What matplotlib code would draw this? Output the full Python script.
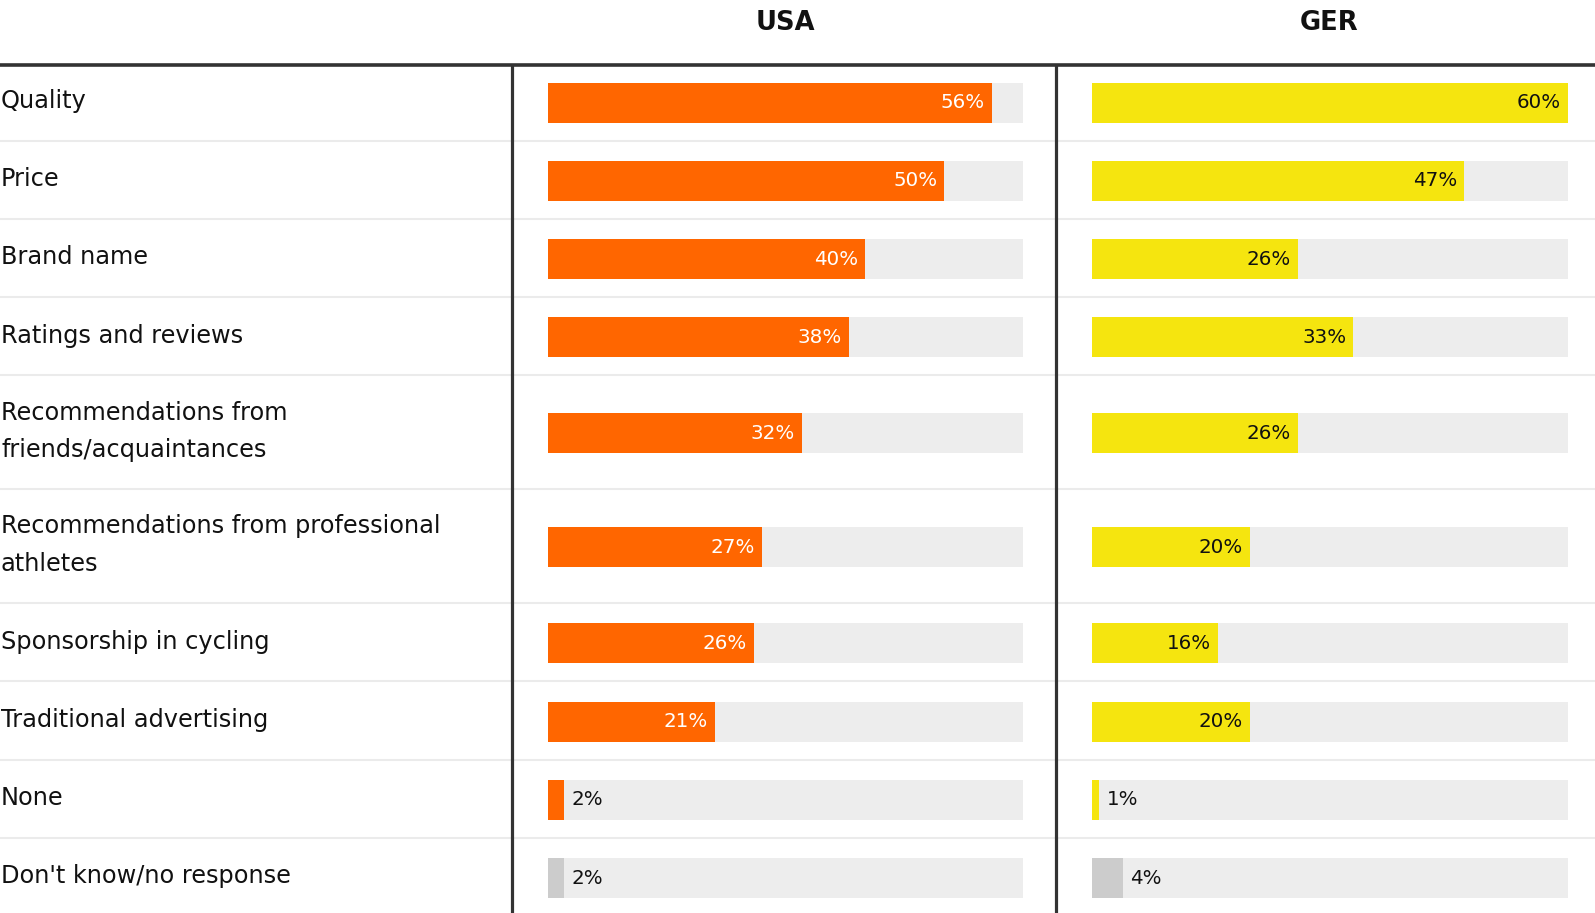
import matplotlib.pyplot as plt
from matplotlib.transforms import blended_transform_factory

# data
categories = ["Quality", "Price", "Brand name", "Ratings and reviews",
              "Recommendations from\nfriends/acquaintances",
              "Recommendations from professional\nathletes",
              "Sponsorship in cycling", "Traditional advertising",
              "None", "Don't know/no response"]
usa = [56, 50, 40, 38, 32, 27, 26, 21, 2, 2]
ger = [60, 47, 26, 33, 26, 20, 16, 20, 1, 4]
columns = ["USA", "GER"]
x_max = 60

# colours
ORANGE = "#FF6600"
YELLOW = "#F5E50F"
NO_ANSWER = "#CCCCCC"
TRACK = "#EDEDED"
SEP = "#EBEBEB"
DARK = "#333333"
TEXT = "#111111"

plt.rcParams['font.family'] = ["DejaVu Sans"]

W, H = 1595, 913
fig = plt.figure(figsize=(W / 100, H / 100), dpi=100)

# layout in pixels
top_y = 65          # thick line under header
row_px = 78.25      # height of a one-line row
extra_line = 0.455  # extra height per extra label line (in rows)
sep_shift = -2.5    # separators sit a bit above the row grid
bar_shift = -1.5
label_fs = 17.3
line_gap = 36.6     # baseline to baseline, px
vline_x = [511.5, 1056]
tracks = [(548.3, 1023.3), (1091.5, 1567.5)]
bar_h = 40 / row_px

# row geometry in row units
heights = [1 + extra_line * c.count("\n") for c in categories]
edges = [0]
for h in heights:
    edges.append(edges[-1] + h)
centers = [(edges[i] + edges[i + 1]) / 2 + bar_shift / row_px for i in range(len(categories))]
y_bottom = (H - top_y) / row_px
ax_h = (H - top_y) / H

# background: labels, separators, vertical rules
bg = fig.add_axes([0, 0, 1, ax_h])
bg.set_xlim(0, W)
bg.set_ylim(y_bottom, 0)
bg.axis("off")
for e in edges[1:-1]:
    bg.axhline(e + sep_shift / row_px, color=SEP, lw=1.5, zorder=1)
bg.axhline(0, color=DARK, lw=2.6, clip_on=False, zorder=3)
for vx in vline_x:
    bg.axvline(vx, color=DARK, lw=2.3, zorder=3)
for c, yc in zip(categories, centers):
    n = c.count("\n")
    # va="baseline" pins the last line's baseline
    y_base = yc + (5.3 + n * line_gap / 2) / row_px
    bg.text(1, y_base, c, ha="left", va="baseline", fontsize=label_fs,
            color=TEXT, linespacing=1.71)

series = [usa, ger]
colors = [ORANGE, YELLOW]
inner_text = ["white", TEXT]
for k, (vals, (x0, x1)) in enumerate(zip(series, tracks)):
    ax = fig.add_axes([x0 / W, 0, (x1 - x0) / W, ax_h])
    ax.set_xlim(0, x_max)
    ax.set_ylim(y_bottom, 0)
    ax.axis("off")
    ax.patch.set_alpha(0)
    ax.barh(centers, [x_max] * len(vals), height=bar_h, color=TRACK, zorder=1)
    bar_colors = [colors[k]] * (len(vals) - 1) + [NO_ANSWER]
    ax.barh(centers, vals, height=bar_h, color=bar_colors, zorder=2)
    for v, yc in zip(vals, centers):
        if v >= 5:
            ax.annotate(f"{v}%", (v, yc), xytext=(-5, 0), textcoords="offset points",
                        ha="right", va="center", fontsize=14.3, color=inner_text[k], zorder=3)
        else:
            ax.annotate(f"{v}%", (v, yc), xytext=(5, 0), textcoords="offset points",
                        ha="left", va="center", fontsize=14.3, color=TEXT, zorder=3)
    # column header
    tr = blended_transform_factory(ax.transAxes, fig.transFigure)
    ax.text(0.5, 1 - 22.5 / H, columns[k], transform=tr, ha="center", va="center",
            fontsize=18.5, fontweight="bold", color=TEXT)

fig.savefig("out.png", dpi=100)
